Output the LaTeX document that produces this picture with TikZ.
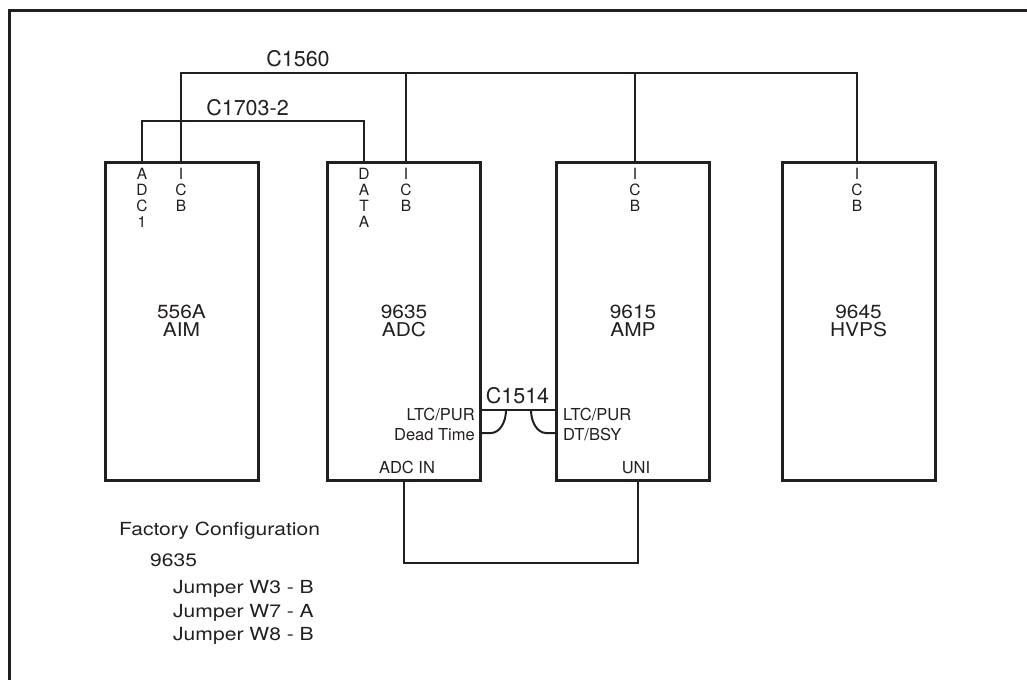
\documentclass[tikz,border=0pt]{standalone}
\usepackage{fontspec}
\setmainfont{TeX Gyre Heros}
\newfontfamily\widefont[FakeStretch=1.1]{TeX Gyre Heros}
\newfontfamily\widerfont[FakeStretch=1.17]{TeX Gyre Heros}
\definecolor{ink}{HTML}{231F20}
\tikzset{
  modbox/.style={draw=ink, line width=3pt, minimum width=153pt, minimum height=318pt,
    inner sep=0pt, align=center, text=ink, font=\widefont\fontsize{19}{18}\selectfont},
  pinlab/.style={inner sep=0pt, align=center, text=ink, font=\fontsize{15.5}{16}\selectfont},
  clab/.style={inner sep=0pt, text=ink, font=\fontsize{21.5}{24}\selectfont},
  sidelab/.style={inner sep=0pt, text=ink, font=\fontsize{16.5}{18}\selectfont},
  cfglab/.style={inner sep=0pt, text=ink, anchor=base west, font=\widerfont\fontsize{18}{20}\selectfont},
  wire/.style={draw=ink, line width=2pt},
  frameline/.style={draw=ink, line width=3pt}
}
\begin{document}
\begin{tikzpicture}[x=1pt,y=-1pt]
\useasboundingbox (0,0) rectangle (1027,680);
\draw[frameline] (1027,10.5) -- (9.5,10.5) -- (9.5,680);

% modules
\node[modbox] (aim) at (181.5,321) {556A\\AIM};
\node[modbox] (adc) at (404,321) {9635\\ADC};
\node[modbox] (amp) at (633,321) {9615\\AMP};
\node[modbox] (hv) at (858.5,321) {9645\\HVPS};

% pin labels
\node[pinlab, anchor=north] (aimadc) at (142,168) {A\\D\\C\\1};
\node[pinlab, anchor=north] (aimicb) at (181,168) {I\\C\\B};
\node[pinlab, anchor=north] (adcdata) at (364,168) {D\\A\\T\\A};
\node[pinlab, anchor=north] (adcicb) at (406,168) {I\\C\\B};
\node[pinlab, anchor=north] (ampicb) at (635,168) {I\\C\\B};
\node[pinlab, anchor=north] (hvicb) at (857,168) {I\\C\\B};

% buses
\coordinate (bus) at (520,73.3);
\coordinate (bustwo) at (250,120.7);
\draw[wire] (aimicb |- aim.north) |- (hvicb |- bus) -- (hvicb |- hv.north);
\draw[wire] (adcicb |- bus) -- (adcicb |- adc.north);
\draw[wire] (ampicb |- bus) -- (ampicb |- amp.north);
\draw[wire] (aimadc |- aim.north) |- (adcdata |- bustwo) -- (adcdata |- adc.north);

\node[clab, anchor=base] (cone) at (298,66) {C1560};
\node[clab, anchor=base] (ctwo) at (247.5,115) {C1703-2};
\node[clab, anchor=base] (cthree) at (517.5,403) {C1514};

% C1514 link
\coordinate (ltcy) at (518,410);
\coordinate (dty) at (518,433);
\draw[wire] (adc.east |- ltcy) -- (amp.west |- ltcy);
\draw[wire] (adc.east |- dty) -- ++(9,0) arc[start angle=-90,end angle=0,x radius=15pt,y radius=23pt];
\draw[wire] (amp.west |- dty) -- ++(-9,0) arc[start angle=-90,end angle=-180,x radius=15pt,y radius=23pt];

\node[sidelab, anchor=base east] (ltcadc) at (475,420) {LTC/PUR};
\node[sidelab, anchor=base east] (deadt) at (475,440) {Dead Time};
\node[sidelab, anchor=base west] (ltcamp) at (563,420) {LTC/PUR};
\node[sidelab, anchor=base west] (dtbsy) at (563,440) {DT/BSY};
\node[sidelab, anchor=base] (adcin) at (407,473) {ADC IN};
\node[sidelab, anchor=base] (uni) at (636,473) {UNI};

% bottom link
\coordinate (adcinw) at (404,563);
\coordinate (uniw) at (638,563);
\draw[wire] (adcinw |- adc.south) -- (adcinw) -- (uniw) -- (uniw |- amp.south);

% factory configuration
\node[cfglab] (fc) at (119,535) {Factory Configuration};
\node[cfglab] (fcnum) at (150,566) {9635};
\node[cfglab] (jthree) at (173,593) {Jumper W3 - B};
\node[cfglab] (jseven) at (173,617) {Jumper W7 - A};
\node[cfglab] (jeight) at (173,640) {Jumper W8 - B};
\end{tikzpicture}
\end{document}
